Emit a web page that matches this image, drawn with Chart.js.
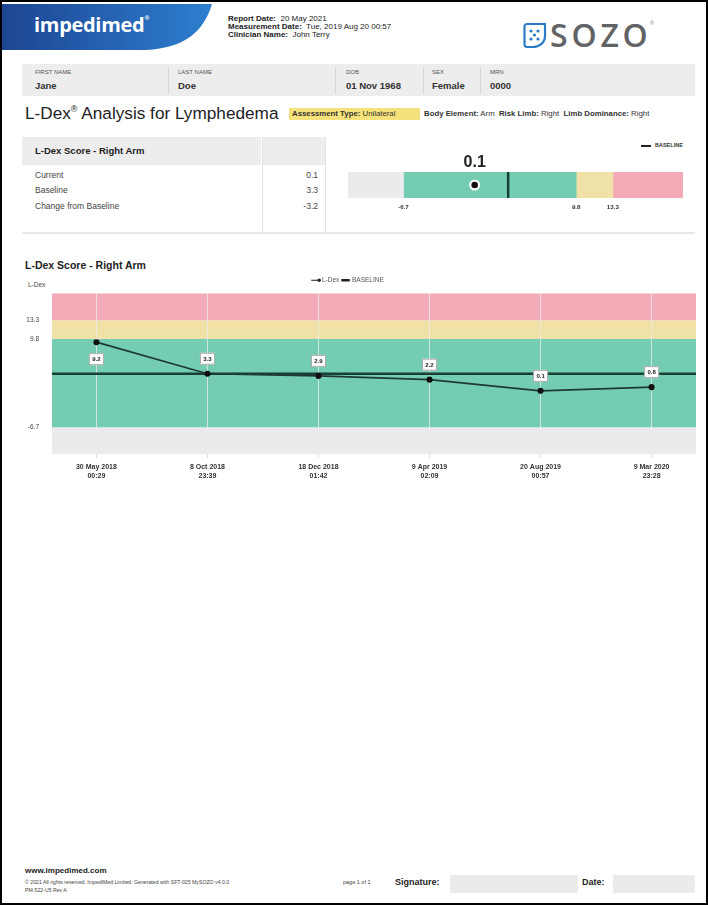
<!DOCTYPE html>
<html>
<head>
<meta charset="utf-8">
<script src="https://cdn.jsdelivr.net/npm/chart.js@4/dist/chart.umd.min.js"></script>
<style>
  html, body { margin: 0; padding: 0; background: #fff; }
  body { font-family: "Liberation Sans", Arial, sans-serif; color: #222; }
  #page { position: relative; width: 708px; height: 905px; overflow: hidden; }
  #frame { position: absolute; left: 0; top: 0; width: 708px; height: 905px; box-sizing: border-box; border: 2px solid #000; pointer-events: none; }
  .abs { position: absolute; white-space: nowrap; line-height: 1; }
  .b { font-weight: bold; }
  .lbl { font-size: 6px; color: #555; }
  .val { font-size: 9.5px; font-weight: bold; color: #333; }
  .row { font-size: 8.5px; color: #444; }
  .sep { position: absolute; background: #d6d6d6; width: 1px; }
</style>
</head>
<body>
<div id="page">
  <!-- header -->
  <svg class="abs" style="left:0;top:0" width="230" height="55">
    <defs>
      <linearGradient id="blue" x1="0" x2="1" y1="0" y2="0">
        <stop offset="0" stop-color="#1d4593"/>
        <stop offset="1" stop-color="#2d7fcf"/>
      </linearGradient>
    </defs>
    <path d="M2,4 L212,4 C204,31 185,48 146,50 L2,50 Z" fill="url(#blue)"/>
  </svg>
  <div class="abs" style="left:34px;top:15px;font-family:'Open Sans',sans-serif;font-weight:bold;font-size:20px;color:#fff;letter-spacing:-0.3px">impedimed<span style="font-size:6px;vertical-align:top">®</span></div>

  <div class="abs" style="left:228px;top:15px;font-size:8px;color:#222"><span class="b">Report Date:</span>&nbsp; 20 May 2021</div>
  <div class="abs" style="left:228px;top:23px;font-size:8px;color:#222"><span class="b">Measurement Date:</span>&nbsp; Tue, 2019 Aug 20 00:57</div>
  <div class="abs" style="left:228px;top:31px;font-size:8px;color:#222"><span class="b">Clinician Name:</span>&nbsp; John Terry</div>

  <svg class="abs" style="left:523px;top:22px" width="26" height="28">
    <path d="M4,2 L22,2 L22,14 C22,21 16,25 10,25 L4,25 C2.5,25 1.5,24 1.5,22.5 L1.5,4.5 C1.5,3 2.5,2 4,2 Z" fill="none" stroke="#2b7bc6" stroke-width="2.2"/>
    <circle cx="8" cy="9" r="1.6" fill="#2b7bc6"/><circle cx="15" cy="9" r="1.6" fill="#2b7bc6"/>
    <circle cx="11.5" cy="13" r="1.6" fill="#2b7bc6"/>
    <circle cx="8" cy="17" r="1.6" fill="#2b7bc6"/><circle cx="15" cy="17" r="1.6" fill="#2b7bc6"/>
  </svg>
  <div class="abs" style="left:550px;top:19px;font-family:'Open Sans',sans-serif;font-weight:600;font-size:32px;color:#626366;letter-spacing:3.8px">SOZO</div>
  <div class="abs" style="left:650px;top:21px;font-size:5px;color:#777">®</div>

  <!-- patient bar -->
  <div class="abs" style="left:22px;top:64px;width:673px;height:32px;background:#ededee"></div>
  <div class="sep" style="left:168px;top:67px;height:27px"></div>
  <div class="sep" style="left:335px;top:67px;height:27px"></div>
  <div class="sep" style="left:423px;top:67px;height:27px"></div>
  <div class="sep" style="left:480px;top:67px;height:27px"></div>
  <div class="abs lbl" style="left:35px;top:69px">FIRST NAME</div>
  <div class="abs lbl" style="left:178px;top:69px">LAST NAME</div>
  <div class="abs lbl" style="left:346px;top:69px">DOB</div>
  <div class="abs lbl" style="left:432px;top:69px">SEX</div>
  <div class="abs lbl" style="left:490px;top:69px">MRN</div>
  <div class="abs val" style="left:35px;top:81px">Jane</div>
  <div class="abs val" style="left:178px;top:81px">Doe</div>
  <div class="abs val" style="left:346px;top:81px">01 Nov 1968</div>
  <div class="abs val" style="left:432px;top:81px">Female</div>
  <div class="abs val" style="left:490px;top:81px">0000</div>

  <!-- title line -->
  <div class="abs" style="left:25px;top:105px;font-size:17.2px;color:#222">L-Dex<sup style="font-size:9px">®</sup> Analysis for Lymphedema</div>
  <div class="abs" style="left:289px;top:108px;width:131px;height:12px;background:#f6e27a"></div>
  <div class="abs" style="left:292px;top:110px;font-size:7.8px;color:#333"><span class="b">Assessment Type:</span> Unilateral</div>
  <div class="abs" style="left:424px;top:110px;font-size:7.8px;color:#333"><span class="b">Body Element:</span> Arm&nbsp; <span class="b">Risk Limb:</span> Right&nbsp; <span class="b">Limb Dominance:</span> Right</div>

  <!-- score table -->
  <div class="abs" style="left:22px;top:137px;width:239px;height:28px;background:#ededee"></div>
  <div class="abs" style="left:263px;top:137px;width:62px;height:28px;background:#ededee"></div>
  <div class="sep" style="left:262px;top:137px;height:95px;background:#e2e2e2"></div>
  <div class="sep" style="left:325px;top:137px;height:96px;background:#e2e2e2"></div>
  <div class="abs" style="left:22px;top:232px;width:673px;height:2px;background:#e8e8e8"></div>
  <div class="abs b" style="left:35px;top:146px;font-size:9.5px;color:#222">L-Dex Score - Right Arm</div>
  <div class="abs row" style="left:35px;top:171px">Current</div>
  <div class="abs row" style="left:35px;top:186px">Baseline</div>
  <div class="abs row" style="left:35px;top:202px">Change from Baseline</div>
  <div class="abs row" id="vCur" style="right:390px;top:171px"></div>
  <div class="abs row" id="vBase" style="right:390px;top:186px"></div>
  <div class="abs row" id="vChg" style="right:390px;top:202px"></div>

  <!-- gauge -->
  <div class="abs" style="left:641px;top:145px;width:10px;height:1.5px;background:#222"></div>
  <div class="abs b" style="left:655px;top:143px;font-size:5.5px;color:#333">BASELINE</div>
  <div class="abs" style="left:330px;top:135px;width:370px;height:85px"><canvas id="gauge"></canvas></div>

  <!-- main chart -->
  <div class="abs b" style="left:25px;top:260px;font-size:10.5px;color:#222">L-Dex Score - Right Arm</div>
  <div class="abs" style="left:28px;top:282px;font-size:6.5px;color:#444">L-Dex</div>
  <div class="abs" style="left:0;top:270px;width:704px;height:220px"><canvas id="main"></canvas></div>

  <!-- footer -->
  <div class="abs b" style="left:25px;top:867px;font-size:8px;color:#222">www.impedimed.com</div>
  <div class="abs" style="left:25px;top:880px;font-size:5.2px;color:#444">© 2021 All rights reserved. ImpediMed Limited. Generated with SFT-025 MySOZO v4.0.0</div>
  <div class="abs" style="left:25px;top:888px;font-size:5.2px;color:#444">PM-522-U5 Rev A</div>
  <div class="abs" style="left:343px;top:880px;font-size:5.5px;color:#444">page 1 of 1</div>
  <div class="abs b" style="left:395px;top:878px;font-size:9px;color:#222">Signature:</div>
  <div class="abs" style="left:450px;top:875px;width:128px;height:18px;background:#ebebee"></div>
  <div class="abs b" style="left:582px;top:878px;font-size:9px;color:#222">Date:</div>
  <div class="abs" style="left:613px;top:875px;width:82px;height:18px;background:#ebebee"></div>
  <div id="frame"></div>
</div>

<script>
// measurement history
const DATES = ['30 May 2018', '8 Oct 2018', '18 Dec 2018', '9 Apr 2019', '20 Aug 2019', '9 Mar 2020'];
const TIMES = ['00:29', '23:39', '01:42', '02:09', '00:57', '23:28'];
const LDEX = [9.2, 3.3, 2.9, 2.2, 0.1, 0.8];
const BASELINE = 3.3;
const CURRENT = 0.1;
const CHANGE = -3.2;
// zone limits: normal low, normal high, caution high
const ZONE_TICKS = [-6.7, 9.8, 13.3];

const GREY = '#ebebee';
const GREEN = '#74cdb3';
const YELLOW = '#f0e2a6';
const PINK = '#f2aab6';

document.getElementById('vCur').textContent = CURRENT.toFixed(1);
document.getElementById('vBase').textContent = BASELINE.toFixed(1);
document.getElementById('vChg').textContent = CHANGE.toFixed(1);

const FONT = "'Liberation Sans', Arial, sans-serif";

// main chart axis limits
const Y_MIN = -11.7, Y_MAX = 18.3;
const X_MIN = -0.4, X_MAX = 5.4;

// paints the coloured zones behind the grid
const zonePlugin = {
  id: 'zones',
  beforeDraw(chart) {
    const { ctx, chartArea, scales } = chart;
    const y = scales.y;
    const zones = [
      [Y_MIN, ZONE_TICKS[0], GREY],
      [ZONE_TICKS[0], ZONE_TICKS[1], GREEN],
      [ZONE_TICKS[1], ZONE_TICKS[2], YELLOW],
      [ZONE_TICKS[2], Y_MAX, PINK]
    ];
    ctx.save();
    zones.forEach(([from, to, color]) => {
      const top = y.getPixelForValue(to);
      const bottom = y.getPixelForValue(from);
      ctx.fillStyle = color;
      ctx.fillRect(chartArea.left, top, chartArea.right - chartArea.left, bottom - top);
    });
    ctx.restore();
  }
};

// small boxed value labels next to each point
const valueLabelPlugin = {
  id: 'valueLabels',
  afterDatasetsDraw(chart) {
    const { ctx } = chart;
    const meta = chart.getDatasetMeta(0);
    const yScale = chart.scales.y;
    const greenTop = yScale.getPixelForValue(ZONE_TICKS[1]);
    ctx.save();
    ctx.font = 'bold 6px ' + FONT;
    ctx.textAlign = 'center';
    ctx.textBaseline = 'middle';
    meta.data.forEach((pt, i) => {
      let cy = pt.y - 15;
      if (cy - 6 < greenTop) cy = pt.y + 17;
      const w = 15, h = 12;
      ctx.fillStyle = '#fff';
      ctx.strokeStyle = '#a8a8a8';
      ctx.lineWidth = 1;
      ctx.fillRect(pt.x - w / 2, cy - h / 2, w, h);
      ctx.strokeRect(pt.x - w / 2 + 0.5, cy - h / 2 + 0.5, w - 1, h - 1);
      ctx.fillStyle = '#222';
      ctx.fillText(LDEX[i].toFixed(1), pt.x, cy + 0.5);
    });
    ctx.restore();
  }
};

// dot on the L-Dex legend line
const legendDotPlugin = {
  id: 'legendDot',
  afterDraw(chart) {
    const boxes = chart.legend && chart.legend.legendHitBoxes;
    if (!boxes || !boxes.length) return;
    const b = boxes[0];
    const ctx = chart.ctx;
    ctx.save();
    ctx.fillStyle = '#222';
    ctx.beginPath();
    ctx.arc(b.left + 7, b.top + b.height / 2, 1.8, 0, Math.PI * 2);
    ctx.fill();
    ctx.restore();
  }
};

new Chart(document.getElementById('main'), {
  type: 'line',
  data: {
    datasets: [
      {
        label: 'L-Dex',
        data: LDEX.map((v, i) => ({ x: i, y: v })),
        borderColor: '#1f3a34',
        borderWidth: 1.7,
        pointRadius: 2.2,
        pointBackgroundColor: '#111',
        pointBorderColor: '#111',
        tension: 0
      },
      {
        label: 'BASELINE',
        data: [{ x: X_MIN, y: BASELINE }, { x: X_MAX, y: BASELINE }],
        borderColor: '#173f33',
        borderWidth: 2.6,
        pointRadius: 0
      }
    ]
  },
  options: {
    responsive: true,
    maintainAspectRatio: false,
    animation: false,
    layout: { padding: { top: 4, right: 8, left: 0, bottom: 0 } },
    plugins: {
      tooltip: { enabled: false },
      legend: {
        display: true,
        position: 'top',
        labels: {
          usePointStyle: true,
          boxWidth: 14,
          boxHeight: 6,
          padding: 3,
          color: '#555',
          font: { family: FONT, size: 6.5 },
          generateLabels(chart) {
            return chart.data.datasets.map((ds, i) => ({
              text: ds.label,
              fillStyle: ds.borderColor,
              strokeStyle: '#222',
              lineWidth: i === 0 ? 1 : 2.6,
              pointStyle: 'line',
              datasetIndex: i,
              fontColor: '#555'
            }));
          }
        }
      }
    },
    scales: {
      x: {
        type: 'linear',
        min: X_MIN,
        max: X_MAX,
        afterBuildTicks(scale) {
          scale.ticks = DATES.map((d, i) => ({ value: i }));
        },
        afterFit(scale) { scale.height = 36; },
        border: { display: false },
        grid: {
          color: 'rgba(238,238,238,0.75)',
          lineWidth: 1,
          drawTicks: true,
          tickLength: 4,
          tickColor: '#dcdcdc'
        },
        ticks: {
          autoSkip: false,
          maxRotation: 0,
          padding: 5,
          color: '#333',
          font: { family: FONT, size: 7, weight: 'bold' },
          callback: (v) => [DATES[v], TIMES[v]]
        }
      },
      y: {
        type: 'linear',
        min: Y_MIN,
        max: Y_MAX,
        afterBuildTicks(scale) {
          scale.ticks = ZONE_TICKS.slice().reverse().map(v => ({ value: v }));
        },
        afterFit(scale) { scale.width = 52; },
        border: { display: false },
        grid: { display: false },
        ticks: {
          padding: 5,
          color: '#444',
          font: { family: FONT, size: 6.5 },
          callback: (v) => v.toFixed(1)
        }
      }
    }
  },
  plugins: [zonePlugin, valueLabelPlugin, legendDotPlugin]
});

// gauge: current score against zones
const G_MIN = -12, G_MAX = 20;

const gaugeMarkPlugin = {
  id: 'gaugeMarks',
  afterDatasetsDraw(chart) {
    const { ctx, chartArea, scales } = chart;
    const x = scales.x;
    const bx = x.getPixelForValue(BASELINE);
    const cx = x.getPixelForValue(CURRENT);
    const cy = (chartArea.top + chartArea.bottom) / 2;
    ctx.save();
    ctx.strokeStyle = '#173f33';
    ctx.lineWidth = 2.5;
    ctx.beginPath();
    ctx.moveTo(bx, chartArea.top);
    ctx.lineTo(bx, chartArea.bottom);
    ctx.stroke();
    ctx.fillStyle = '#fff';
    ctx.beginPath();
    ctx.arc(cx, cy, 5.5, 0, Math.PI * 2);
    ctx.fill();
    ctx.fillStyle = '#111';
    ctx.beginPath();
    ctx.arc(cx, cy, 3.3, 0, Math.PI * 2);
    ctx.fill();
    ctx.font = 'bold 16px ' + FONT;
    ctx.textAlign = 'center';
    ctx.textBaseline = 'alphabetic';
    ctx.fillStyle = '#222';
    ctx.fillText(CURRENT.toFixed(1), cx, chartArea.top - 5);
    ctx.restore();
  }
};

const gaugeZones = [
  [G_MIN, ZONE_TICKS[0], GREY],
  [ZONE_TICKS[0], ZONE_TICKS[1], GREEN],
  [ZONE_TICKS[1], ZONE_TICKS[2], YELLOW],
  [ZONE_TICKS[2], G_MAX, PINK]
];

new Chart(document.getElementById('gauge'), {
  type: 'bar',
  data: {
    labels: ['L-Dex'],
    datasets: gaugeZones.map(([from, to, color]) => ({
      data: [[from, to]],
      backgroundColor: color,
      borderWidth: 0,
      grouped: false,
      barPercentage: 1,
      categoryPercentage: 1
    }))
  },
  options: {
    indexAxis: 'y',
    responsive: true,
    maintainAspectRatio: false,
    animation: false,
    layout: { padding: { top: 37, left: 18, right: 17, bottom: 0 } },
    plugins: { legend: { display: false }, tooltip: { enabled: false } },
    scales: {
      x: {
        type: 'linear',
        min: G_MIN,
        max: G_MAX,
        afterBuildTicks(scale) {
          scale.ticks = ZONE_TICKS.map(v => ({ value: v }));
        },
        afterFit(scale) { scale.height = 22; },
        border: { display: false },
        grid: { display: false, drawTicks: false },
        ticks: {
          padding: 6,
          color: '#333',
          font: { family: FONT, size: 6.2, weight: 'bold' },
          callback: (v) => v.toFixed(1)
        }
      },
      y: { display: false }
    }
  },
  plugins: [gaugeMarkPlugin]
});
</script>
</body>
</html>
